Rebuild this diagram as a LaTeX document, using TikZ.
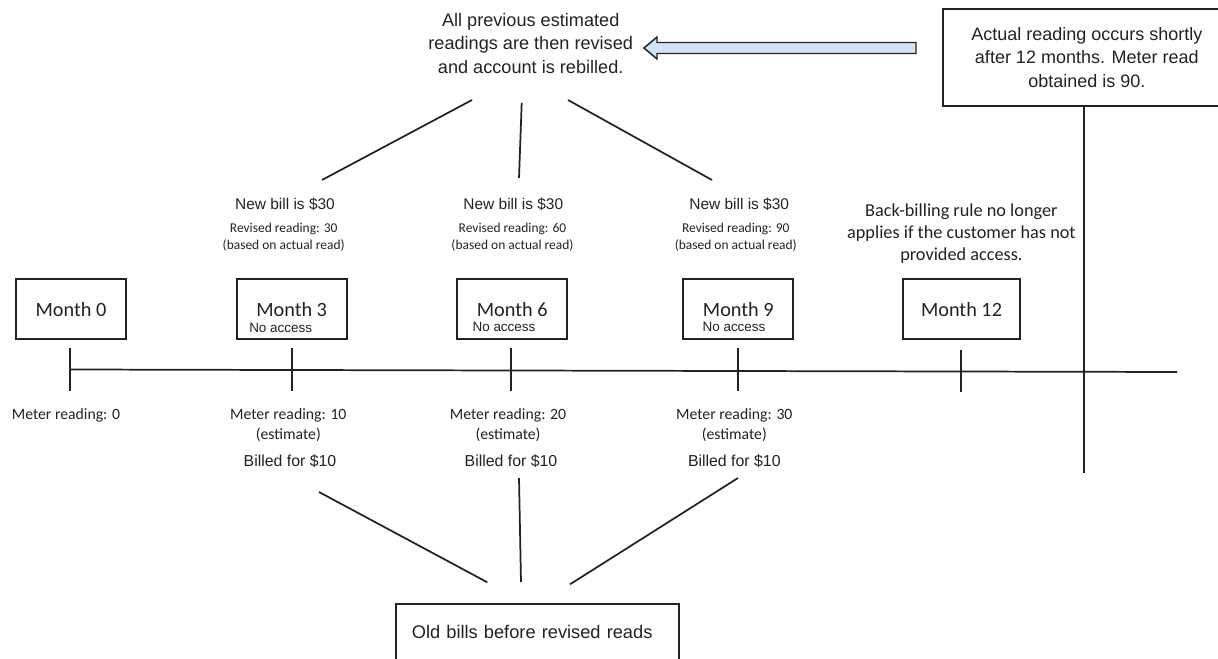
\documentclass[tikz,border=0pt]{standalone}
\usepackage{fontspec}
\setmainfont{Liberation Sans}
\newfontfamily\calibri{Carlito}
\usepackage{tikz}
\usetikzlibrary{positioning}
\definecolor{ink}{HTML}{222222}
\definecolor{paleblue}{HTML}{D3E2F4}
\tikzstyle{monthbox} = [draw, rectangle, line width=1.3pt, minimum width=82.5pt,
    minimum height=45pt, inner sep=0pt, font=\calibri\fontsize{15.2pt}{18pt}\selectfont]
\tikzstyle{noaccess} = [anchor=base west, inner sep=0pt, font=\fontsize{10.1pt}{12pt}\selectfont]
\tikzstyle{newbill} = [anchor=base, inner sep=0pt, font=\fontsize{11.6pt}{14pt}\selectfont]
\tikzstyle{revised} = [anchor=base, inner sep=0pt, align=center,
    font=\calibri\fontsize{10.1pt}{12.4pt}\selectfont]
\tikzstyle{meter} = [anchor=base, inner sep=0pt, align=center,
    font=\calibri\fontsize{11.8pt}{15.5pt}\selectfont]
\tikzstyle{billed} = [anchor=base, inner sep=0pt, font=\fontsize{11.9pt}{14pt}\selectfont]
\tikzstyle{note} = [anchor=base, inner sep=0pt, align=center]
\tikzstyle{rule} = [line width=1.3pt]

\begin{document}
\begin{tikzpicture}[x=0.75pt, y=-0.75pt, color=ink, text=ink]
  \useasboundingbox (0,0) rectangle (1218,659);

  % top notes (base = last line)
  \node [note, font=\fontsize{13.6pt}{17.5pt}\selectfont] (rebill) at (530.7,73.3)
    {All previous estimated\\readings are then revised\\and account is rebilled.};
  \node [draw, rule, anchor=north west, minimum width=216pt, minimum height=72.75pt,
    align=center, font=\fontsize{13.5pt}{17.5pt}\selectfont] (actual) at (942,8)
    {Actual reading occurs shortly\\after 12 months. Meter read\\obtained is 90.};
  \draw [line width=1.1pt, fill=paleblue] (916,42.5) -- (657,42.5) -- (657,37)
    -- (644,48) -- (657,59) -- (657,53.5) -- (916,53.5) -- cycle;

  % month boxes
  \node [monthbox] (m0) at (71,309.3) {Month 0};
  \node [monthbox, right of=m0, node distance=165.5pt] (m3) {Month 3};
  \node [monthbox, right of=m3, node distance=165.4pt] (m6) {Month 6};
  \node [monthbox, right of=m6, node distance=169.6pt] (m9) {Month 9};
  \node [monthbox, right of=m9, node distance=167.4pt, minimum width=87.75pt] (m12) {Month 12};
  \node [noaccess] (na3) at (249,332.7) {No access};
  \node [noaccess] (na6) at (472.3,332) {No access};
  \node [noaccess] (na9) at (702.3,332) {No access};

  % revised bills
  \node [newbill] (nb3) at (285,209.3) {New bill is \$30};
  \node [newbill] (nb6) at (513.3,209.3) {New bill is \$30};
  \node [newbill] (nb9) at (739.2,209.3) {New bill is \$30};
  \node [revised] (rv3) at (283.7,249.5) {Revised reading: 30\\(based on actual read)};
  \node [revised] (rv6) at (512.5,249.5) {Revised reading: 60\\(based on actual read)};
  \node [revised] (rv9) at (735.8,249.5) {Revised reading: 90\\(based on actual read)};
  \node [note, font=\calibri\fontsize{13.7pt}{16.6pt}\selectfont] (backbill) at (961.4,261)
    {Back-billing rule no longer\\applies if the customer has not\\provided access.};

  % readings below the line
  \node [meter] (mr0) at (66,419) {Meter reading: 0};
  \node [meter] (mr3) at (288.3,440) {Meter reading: 10\\(estimate)};
  \node [meter] (mr6) at (508,440) {Meter reading: 20\\(estimate)};
  \node [meter] (mr9) at (734.3,440) {Meter reading: 30\\(estimate)};
  \node [billed] (bl3) at (290,466.5) {Billed for \$10};
  \node [billed] (bl6) at (511,466.5) {Billed for \$10};
  \node [billed] (bl9) at (734.3,466.5) {Billed for \$10};

  \node [draw, rule, anchor=north west, inner sep=0pt, inner xsep=12pt, text width=188.5pt,
    align=left, text height=25.5pt, text depth=50pt,
    font=\fontsize{13.7pt}{16pt}\selectfont] (oldbills) at (395,603.3)
    {Old bills before revised reads};

  % time line
  \coordinate (tstart) at (70,369.5);
  \coordinate (tend) at (1177,372);
  \draw [rule] (tstart) -- (tend);
  \draw [rule] (70,348) -- (70,391);
  \draw [rule] (291.7,348) -- (291.7,391);
  \draw [rule] (510.7,348) -- (510.7,391);
  \draw [rule] (738.3,348) -- (738.3,391);
  \draw [rule] (961,350) -- (961,391.7);
  \coordinate (vbot) at (1084,472.7);
  \draw [rule] (vbot |- actual.south) -- (vbot);

  % fan lines
  \coordinate (ta) at (472,100);  \coordinate (tb) at (521.7,103);  \coordinate (tc) at (568,100);
  \coordinate (ua) at (322,180);  \coordinate (ub) at (519,178);    \coordinate (uc) at (712,180);
  \draw [rule] (ta) -- (ua);
  \draw [rule] (tb) -- (ub);
  \draw [rule] (tc) -- (uc);
  \coordinate (la) at (319,492);  \coordinate (lb) at (519,478);    \coordinate (lc) at (738,478);
  \coordinate (ba) at (487.3,582.3); \coordinate (bb) at (521,582); \coordinate (bc) at (570,584.3);
  \draw [rule] (la) -- (ba);
  \draw [rule] (lb) -- (bb);
  \draw [rule] (lc) -- (bc);
\end{tikzpicture}
\end{document}
